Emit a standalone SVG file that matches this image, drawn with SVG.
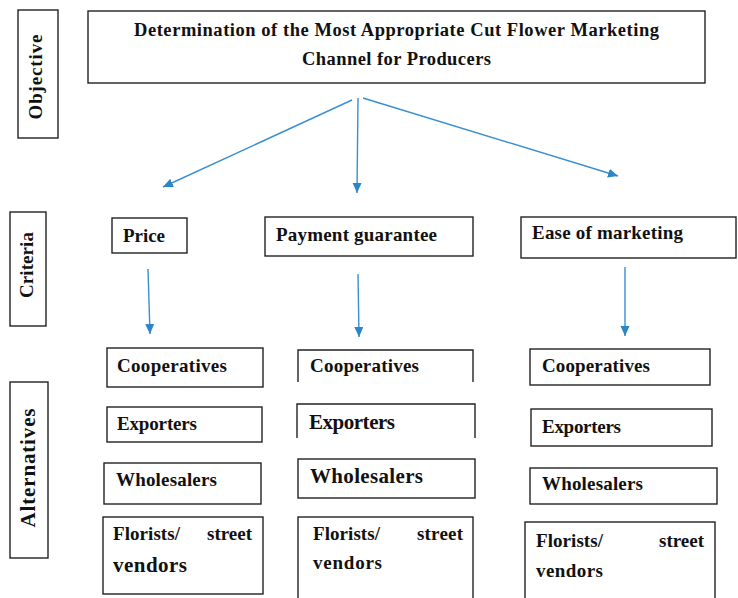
<svg xmlns="http://www.w3.org/2000/svg" width="738" height="598" viewBox="0 0 738 598">
<style>
.bx{fill:#fff;stroke:#222;stroke-width:1.4}
.op{fill:none;stroke:#222;stroke-width:1.4}
.t{font-family:"Liberation Serif","Times New Roman",serif;font-weight:bold;font-size:19px;fill:#111}
.tl{font-size:21px}
.tt{font-size:18.5px}
.ar{stroke:#3a8fd0;stroke-width:1.4;fill:none;marker-end:url(#ah)}
</style>
<defs>
<marker id="ah" markerUnits="userSpaceOnUse" markerWidth="11" markerHeight="10" refX="10" refY="4.5" orient="auto">
<path d="M0,0 L10,4.5 L0,9 z" fill="#2a85c9"/>
</marker>
</defs>
<rect width="738" height="598" fill="#fff"/>

<g id="lbl-objective">
<rect class="bx" x="18" y="10" width="40" height="128"/>
<text class="t" transform="translate(42,77) rotate(-90)" text-anchor="middle" textLength="85">Objective</text>
</g>
<g id="lbl-criteria">
<rect class="bx" x="10" y="212" width="36" height="114"/>
<text class="t" transform="translate(33,265) rotate(-90)" text-anchor="middle" textLength="66">Criteria</text>
</g>
<g id="lbl-alternatives">
<rect class="bx" x="10" y="382" width="38" height="176"/>
<text class="t tl" transform="translate(35,468) rotate(-90)" text-anchor="middle" textLength="119">Alternatives</text>
</g>

<g id="objective">
<rect class="bx" x="88" y="11" width="617" height="72"/>
<text class="t tt" x="134" y="36" textLength="525">Determination of the Most Appropriate Cut Flower Marketing</text>
<text class="t tt" x="302" y="65" textLength="189">Channel for Producers</text>
</g>

<g id="crit-price">
<rect class="bx" x="112" y="218" width="75" height="35"/>
<text class="t" x="123" y="242" textLength="42">Price</text>
</g>
<g id="crit-payment">
<rect class="bx" x="265" y="217" width="208" height="39"/>
<text class="t" x="276" y="241" textLength="161">Payment guarantee</text>
</g>
<g id="crit-ease">
<rect class="bx" x="521" y="217" width="215" height="41"/>
<text class="t" x="532" y="239" textLength="151">Ease of marketing</text>
</g>

<g id="c1-coop">
<rect class="bx" x="107" y="348" width="156" height="39"/>
<text class="t" x="117" y="372" textLength="110">Cooperatives</text>
</g>
<g id="c1-exp">
<rect class="bx" x="107" y="407" width="155" height="35"/>
<text class="t" x="117" y="430" textLength="80">Exporters</text>
</g>
<g id="c1-whole">
<rect class="bx" x="104" y="463" width="157" height="41"/>
<text class="t" x="116" y="486" textLength="101">Wholesalers</text>
</g>
<g id="c1-flor">
<rect class="bx" x="103" y="517" width="160" height="77"/>
<text class="t" x="113" y="540" textLength="67">Florists/</text>
<text class="t" x="252" y="540" text-anchor="end" textLength="45">street</text>
<text class="t tl" x="113" y="572" textLength="74">vendors</text>
</g>

<g id="c2-coop">
<path class="op" d="M298,382 V350 H473 V382"/>
<text class="t" x="310" y="372" textLength="109">Cooperatives</text>
</g>
<g id="c2-exp">
<path class="op" d="M297,438 V404 H475 V438"/>
<text class="t tl" x="309" y="429" textLength="86">Exporters</text>
</g>
<g id="c2-whole">
<rect class="bx" x="298" y="459" width="177" height="39"/>
<text class="t tl" x="310" y="483" textLength="113">Wholesalers</text>
</g>
<g id="c2-flor">
<rect class="bx" x="298" y="517" width="175" height="90"/>
<text class="t" x="313" y="540" textLength="67">Florists/</text>
<text class="t" x="463" y="540" text-anchor="end" textLength="46">street</text>
<text class="t" x="313" y="569" textLength="69">vendors</text>
</g>

<g id="c3-coop">
<rect class="bx" x="530" y="349" width="180" height="36"/>
<text class="t" x="542" y="372" textLength="108">Cooperatives</text>
</g>
<g id="c3-exp">
<rect class="bx" x="531" y="409" width="181" height="37"/>
<text class="t" x="542" y="433" textLength="79">Exporters</text>
</g>
<g id="c3-whole">
<rect class="bx" x="530" y="468" width="187" height="36"/>
<text class="t" x="542" y="490" textLength="101">Wholesalers</text>
</g>
<g id="c3-flor">
<rect class="bx" x="525" y="522" width="190" height="90"/>
<text class="t" x="536" y="547" textLength="67">Florists/</text>
<text class="t" x="704" y="547" text-anchor="end" textLength="45">street</text>
<text class="t" x="536" y="577" textLength="67">vendors</text>
</g>

<g id="connectors">
<line class="ar" x1="352" y1="100" x2="163" y2="187"/>
<line class="ar" x1="358" y1="98" x2="357" y2="193"/>
<line class="ar" x1="363" y1="98" x2="618" y2="176"/>
<line class="ar" x1="148" y1="269" x2="150" y2="334"/>
<line class="ar" x1="358" y1="274" x2="359" y2="337"/>
<line class="ar" x1="625" y1="267" x2="625" y2="336"/>
</g>
</svg>
